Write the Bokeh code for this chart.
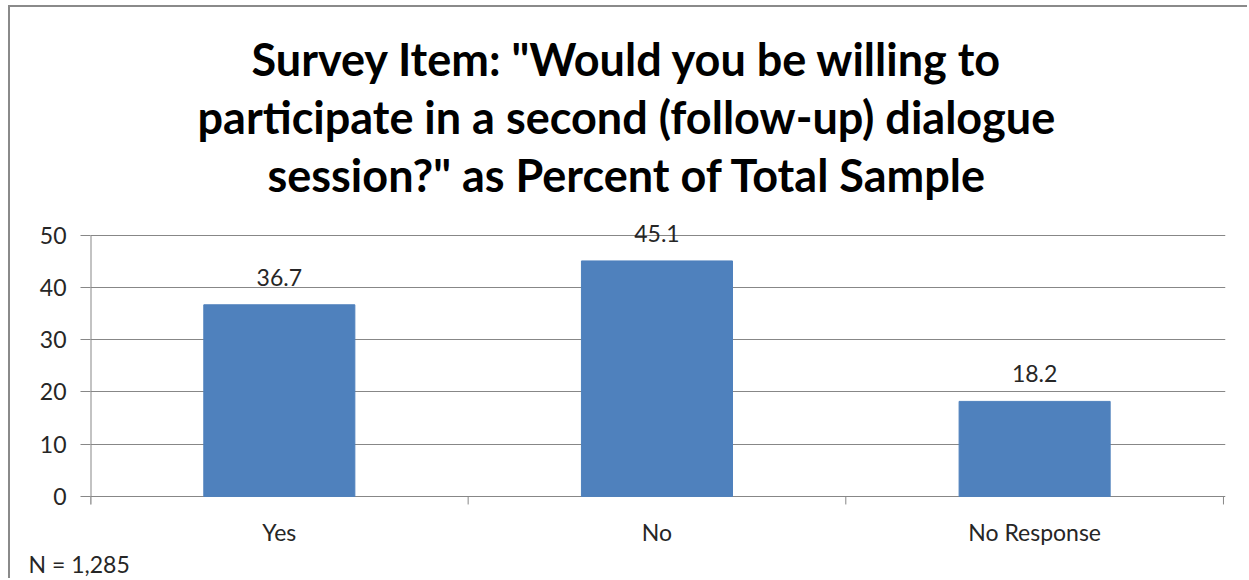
from bokeh.plotting import figure
from bokeh.models import Range1d, FixedTicker, LinearAxis, Title, ColumnDataSource
from bokeh.core.properties import value
from bokeh.embed import file_html
from bokeh.resources import INLINE

# Survey responses, percent of total sample
categories = ["Yes", "No", "No Response"]
percents = [36.7, 45.1, 18.2]
y_ticks = [0, 10, 20, 30, 40, 50]
title_lines = [
    'Survey Item: "Would you be willing to',
    'participate in a second (follow-up) dialogue',
    'session?" as Percent of Total Sample',
]
sample_note = "N = 1,285"

FONT = "Lato"
BAR = "#4F81BD"
GRID = "#878787"
TEXT = "#262626"
LABEL_SIZE = "23px"
PX_PER_UNIT = 5.2          # vertical scale of the value axis
TICK_LEN = 8 / PX_PER_UNIT  # category separator ticks below the baseline

n = len(categories)
positions = [i + 0.5 for i in range(n)]
src = ColumnDataSource(dict(x=positions, top=percents,
                            label=[f"{v:.1f}" for v in percents]))

p = figure(width=1239, height=573, output_backend="svg", toolbar_location=None,
           x_range=Range1d(0, n * 1.0018), y_range=Range1d(-2.12, 56.29),
           min_border_left=80, min_border_right=24, min_border_top=0,
           min_border_bottom=0, x_axis_type=None,
           styles={"margin-left": "8px", "margin-top": "5px",
                   "border-left": "2px solid #8A8A8A",
                   "border-top": "2px solid #8A8A8A"})
p.outline_line_color = None
p.background_fill_color = "white"
p.border_fill_color = "white"

# value gridlines
p.yaxis.ticker = FixedTicker(ticks=y_ticks)
p.ygrid.grid_line_color = GRID
p.xgrid.grid_line_color = None

# axis line on the left, running from the top tick down past the baseline
p.segment(x0=[0], y0=[max(y_ticks)], x1=[0], y1=[-TICK_LEN],
          line_color=GRID, line_width=2)
# separator ticks between categories
bounds = list(range(n + 1))
p.segment(x0=bounds, y0=[0] * len(bounds), x1=bounds, y1=[-TICK_LEN] * len(bounds),
          line_color=GRID, line_width=1)

# bars and value labels
p.vbar(x="x", top="top", width=0.4, source=src, fill_color=BAR,
       line_color=BAR, line_width=1)
p.text(x="x", y="top", text="label", source=src, text_align="center",
       text_baseline="bottom", y_offset=-19, text_font=value(FONT),
       text_font_size=LABEL_SIZE, text_color=TEXT)

# y axis
p.yaxis.axis_line_color = None
p.yaxis.major_tick_line_color = GRID
p.yaxis.major_tick_in = 0
p.yaxis.major_tick_out = 10
p.yaxis.minor_tick_line_color = None
p.yaxis.major_label_standoff = 14
p.yaxis.major_label_text_font = FONT
p.yaxis.major_label_text_font_size = LABEL_SIZE
p.yaxis.major_label_text_color = TEXT

# x axis: category names
label_axis = LinearAxis(ticker=FixedTicker(ticks=positions),
                        major_label_overrides={pos: c for pos, c in zip(positions, categories)},
                        axis_line_color=None, major_tick_line_color=None,
                        major_tick_in=0, major_tick_out=0,
                        minor_tick_line_color=None, major_label_standoff=10,
                        major_label_text_font=FONT, major_label_text_font_size=LABEL_SIZE,
                        major_label_text_color=TEXT)
p.add_layout(label_axis, "below")

# sample size note under the axis
p.add_layout(Title(text=sample_note, align="left", vertical_align="top",
                   offset=-62, standoff=2,
                   text_font=FONT, text_font_style="normal",
                   text_font_size=LABEL_SIZE, text_color=TEXT), "below")

# title, last line nearest the plot
title_offsets = [161, 107, 177]
for line, off in reversed(list(zip(title_lines, title_offsets))):
    p.add_layout(Title(text=line, align="left", offset=off, standoff=2,
                       text_font=FONT, text_font_style="bold",
                       text_font_size="45px", text_color="black"), "above")
# breathing room above the title
p.add_layout(Title(text=" ", standoff=7, text_font=FONT,
                   text_font_size="10px"), "above")

open("out.html", "w").write(file_html(p, INLINE))
